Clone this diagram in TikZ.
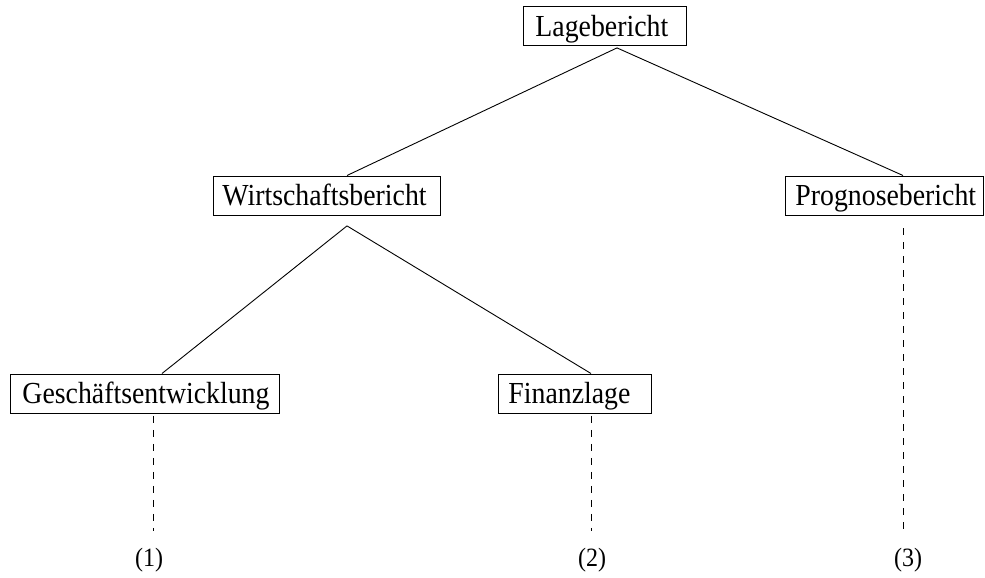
\documentclass[tikz,border=0pt]{standalone}
\usepackage{fontspec}
\setmainfont{Liberation Serif}
\usetikzlibrary{calc}
% framed label: fixed box width, text set flush left after a given indent,
% glyphs drawn slightly taller than wide
\newcommand{\framedtext}[3]{\makebox[#1pt][l]{\hspace{#2pt}\scalebox{1}[1.1]{#3}}}
\begin{document}
\begin{tikzpicture}[x=1pt,y=-1pt,
  box/.style={draw, line width=0.9pt, anchor=north west, inner xsep=0pt, inner ysep=0pt,
    text height=30pt, text depth=9pt, font=\fontsize{27.8pt}{32pt}\selectfont},
  link/.style={line width=0.9pt},
  lead/.style={line width=0.9pt, dash pattern=on 7pt off 7pt},
  tag/.style={anchor=base, inner sep=0pt, font=\fontsize{24pt}{28pt}\selectfont}]
\useasboundingbox (0,0) rectangle (985,578);

% boxes of the report structure
\node[box] (lage)   at (523,6.5)   {\framedtext{163}{12}{Lagebericht}};
\node[box] (wirt)   at (213,175.5) {\framedtext{227}{9}{Wirtschaftsbericht}};
\node[box] (prog)   at (785,175.5) {\framedtext{198}{10}{Prognosebericht}};
\node[box] (gesch)  at (10,373.5)  {\framedtext{269}{12}{Geschäftsentwicklung}};
\node[box] (finanz) at (498,373.5) {\framedtext{153}{10}{Finanzlage}};

% section numbers at the foot
\node[tag] (t1) at (149,566) {\scalebox{1}[1.1]{(1)}};
\node[tag] (t2) at (592,566) {\scalebox{1}[1.1]{(2)}};
\node[tag] (t3) at (908,566) {\scalebox{1}[1.1]{(3)}};

% branching points below the parent boxes
\coordinate (lagetip) at ($(lage.south west)+(94,1.5)$);
\coordinate (wirttip) at ($(wirt.south west)+(134,10.5)$);

% tree edges
\draw[link] (lagetip) -- ($(wirt.north west)+(134,0)$);
\draw[link] (lagetip) -- ($(prog.north west)+(118,0)$);
\draw[link] (wirttip) -- ($(gesch.north west)+(152,0)$);
\draw[link] (wirttip) -- ($(finanz.north west)+(93,0)$);

% dashed leads down to the section numbers
\coordinate (e1) at ($(t1.north)+(4,-16)$);
\coordinate (e2) at ($(t2.north)+(-1,-16)$);
\coordinate (e3) at ($(t3.north)+(-5,-16)$);
\draw[lead] ($(gesch.south west)+(143,2.5)$) -- (e1);
\draw[lead] ($(finanz.south west)+(93,2.5)$) -- (e2);
\draw[lead] ($(prog.south west)+(118,13)$) -- (e3);
\end{tikzpicture}
\end{document}
